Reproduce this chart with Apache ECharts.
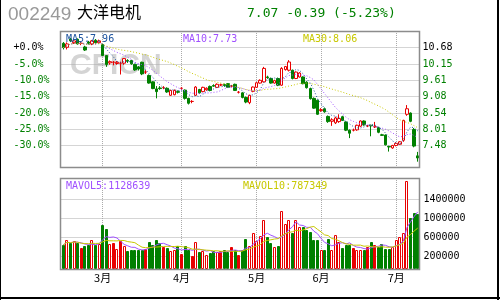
<!DOCTYPE html>
<html>
<head>
<meta charset="utf-8">
<script src="https://cdn.jsdelivr.net/npm/echarts@6/dist/echarts.min.js"></script>
<style>
  html, body { margin: 0; padding: 0; background: #fff; }
  #main { width: 500px; height: 300px; }
</style>
</head>
<body>
<div id="main"></div>
<script>
// 002249 大洋电机 日K线
const basePrice = 10.68;
const pctTicks = [0, -5, -10, -15, -20, -25, -30];
const volTicks = [200000, 600000, 1000000, 1400000];
const monthStart = [11, 33, 54, 72, 93];
const monthNames = ['3月', '4月', '5月', '6月', '7月'];
const legendText = ['MA5:7.96', 'MA10:7.73', 'MA30:8.06', 'MAVOL5:1128639', 'MAVOL10:787349'];

const opens = [
  10.82, 10.69, 10.96, 10.84, 10.95, 10.82, 10.70, 10.86, 10.80, 10.92,
  10.84, 10.78, 10.42, 10.18, 10.20, 10.16, 10.17, 10.17, 10.26, 10.26,
  10.13, 10.05, 10.20, 9.88, 9.77, 9.56, 9.33, 9.36, 9.37, 9.35,
  9.12, 9.14, 9.24, 9.35, 9.29, 9.02, 8.92, 9.12, 9.31, 9.24,
  9.30, 9.41, 9.44, 9.38, 9.46, 9.47, 9.50, 9.42, 9.48, 9.22,
  9.20, 9.05, 8.88, 9.25, 9.38, 9.52, 9.56, 9.72, 9.67, 9.52,
  9.67, 9.45, 9.96, 9.94, 9.94, 9.67, 9.72, 9.72, 9.55, 9.34,
  9.02, 8.96, 8.62, 8.68, 8.43, 8.27, 8.22, 8.26, 8.42, 8.25,
  7.98, 7.98, 7.99, 8.11, 8.28, 8.12, 8.14, 8.09, 8.07, 7.83,
  7.82, 7.45, 7.40, 7.48, 7.52, 7.65, 8.50, 8.54, 8.00, 7.14
];
const closes = [
  10.68, 10.80, 10.90, 10.90, 10.80, 10.82, 10.60, 10.82, 10.90, 10.84,
  10.90, 10.42, 10.13, 10.22, 10.20, 10.20, 10.17, 10.32, 10.24, 10.15,
  9.95, 9.98, 9.82, 9.88, 9.52, 9.34, 9.24, 9.34, 9.37, 9.23,
  9.28, 9.28, 9.22, 9.35, 9.02, 8.86, 8.92, 9.39, 9.20, 9.38,
  9.35, 9.28, 9.42, 9.48, 9.46, 9.44, 9.38, 9.42, 9.28, 9.22,
  9.05, 8.90, 9.12, 9.39, 9.53, 9.61, 10.00, 9.70, 9.52, 9.60,
  9.45, 10.00, 10.06, 10.21, 9.67, 9.88, 9.85, 9.50, 9.37, 9.01,
  8.70, 8.50, 8.65, 8.58, 8.26, 8.32, 8.38, 8.36, 8.30, 7.98,
  7.88, 7.98, 8.14, 8.28, 8.15, 8.12, 8.12, 8.09, 7.91, 7.81,
  7.50, 7.43, 7.48, 7.55, 7.60, 8.30, 8.68, 8.27, 7.46, 7.07
];
const lows = [
  10.62, 10.62, 10.86, 10.80, 10.78, 10.76, 10.57, 10.78, 10.76, 10.80,
  10.80, 10.40, 10.05, 10.12, 10.10, 10.12, 9.80, 10.12, 10.18, 10.12,
  9.92, 9.93, 9.78, 9.82, 9.50, 9.32, 9.02, 9.30, 9.32, 9.20,
  9.10, 9.12, 9.18, 9.30, 8.98, 8.82, 8.86, 9.10, 9.17, 9.22,
  9.27, 9.25, 9.40, 9.36, 9.42, 9.40, 9.36, 9.38, 9.26, 9.18,
  9.02, 8.86, 8.83, 9.22, 9.36, 9.50, 9.54, 9.66, 9.50, 9.50,
  9.42, 9.43, 9.93, 9.90, 9.64, 9.65, 9.70, 9.48, 9.34, 8.98,
  8.68, 8.48, 8.58, 8.55, 8.22, 8.12, 8.18, 8.22, 8.28, 7.95,
  7.72, 7.94, 7.96, 8.09, 8.13, 8.08, 7.78, 8.05, 7.88, 7.79,
  7.48, 7.28, 7.37, 7.45, 7.50, 7.60, 8.45, 8.24, 7.42, 6.95
];
const highs = [
  10.86, 10.85, 11.00, 10.94, 10.98, 10.86, 10.74, 10.90, 10.93, 10.96,
  10.94, 10.80, 10.43, 10.26, 10.24, 10.24, 10.22, 10.34, 10.30, 10.28,
  10.15, 10.08, 10.22, 9.94, 9.80, 9.58, 9.42, 9.42, 9.42, 9.38,
  9.30, 9.31, 9.28, 9.38, 9.31, 9.04, 8.96, 9.42, 9.33, 9.40,
  9.38, 9.44, 9.48, 9.51, 9.50, 9.50, 9.52, 9.46, 9.50, 9.26,
  9.22, 9.08, 9.14, 9.41, 9.55, 9.64, 10.05, 9.76, 9.70, 9.63,
  9.70, 10.04, 10.08, 10.27, 9.96, 9.90, 9.88, 9.74, 9.58, 9.37,
  9.05, 8.98, 8.70, 8.72, 8.46, 8.37, 8.42, 8.50, 8.45, 8.27,
  8.00, 8.03, 8.16, 8.30, 8.30, 8.15, 8.16, 8.25, 8.09, 7.86,
  7.84, 7.47, 7.50, 7.58, 7.62, 8.32, 8.80, 8.56, 8.05, 7.27
];
const volumes = [
  435000, 539000, 470000, 525000, 483000, 367000, 414000, 435000, 539000, 435000,
  456000, 850000, 760000, 456000, 483000, 346000, 518000, 414000, 311000, 332000,
  332000, 332000, 332000, 346000, 504000, 435000, 539000, 470000, 387000, 358000,
  300000, 320000, 400000, 250000, 414000, 330000, 200000, 504000, 280000, 300000,
  230000, 270000, 300000, 280000, 300000, 330000, 280000, 390000, 330000, 230000,
  330000, 560000, 420000, 690000, 525000, 620000, 950000, 610000, 480000, 380000,
  414000, 1140000, 870000, 950000, 690000, 950000, 800000, 820000, 750000, 700000,
  540000, 540000, 330000, 317000, 553000, 330000, 640000, 504000, 367000, 435000,
  435000, 367000, 330000, 330000, 317000, 390000, 504000, 435000, 380000, 455000,
  350000, 350000, 395000, 540000, 595000, 690000, 1780000, 990000, 1100000, 1080000
];

const days = closes.map((c, i) => String(i));
const priceTicks = pctTicks.map(p => basePrice * (1 + p / 100));
const RED = '#e80000', GREEN = '#008000', GRID = '#aaaaaa';
const MONO = '"DejaVu Sans Mono", monospace';

// moving average (shorter window at the start)
function ma(arr, n) {
  return arr.map((v, i) => {
    const s = arr.slice(Math.max(0, i - n + 1), i + 1);
    return s.reduce((a, b) => a + b, 0) / s.length;
  });
}

function renderVol(params, api) {
  const i = api.value(0);
  const top = api.coord([i, api.value(1)]);
  const bottom = params.coordSys.y + params.coordSys.height;
  const o = api.value(2), c = api.value(3);
  let fill = GREEN, stroke = GREEN;
  if (c > o) { fill = '#fff'; stroke = RED; }
  else if (c === o) { fill = RED; stroke = RED; }
  const L = Math.round(top[0] - 1.5);
  const y = Math.round(top[1]);
  return {
    type: 'rect',
    shape: { x: L + 0.5, y: y + 0.5, width: 2, height: bottom - y - 1 },
    style: { fill: fill, stroke: stroke, lineWidth: 1 }
  };
}

const gridLines = {
  silent: true, symbol: ['none', 'none'], z: 1, animation: false,
  label: { show: false },
  lineStyle: { color: GRID, type: [1, 1], width: 1 }
};

const chart = echarts.init(document.getElementById('main'));
chart.setOption({
  animation: false,
  grid: [
    { left: 61.5, top: 32, width: 358, height: 136 },
    { left: 61.5, top: 178, width: 358, height: 91 }
  ],
  xAxis: [
    { type: 'category', gridIndex: 0, data: days, boundaryGap: true,
      axisLine: { show: false }, axisTick: { show: false }, axisLabel: { show: false }, splitLine: { show: false } },
    { type: 'category', gridIndex: 1, data: days, boundaryGap: true,
      axisLine: { show: false }, axisTick: { show: false }, splitLine: { show: false },
      axisLabel: {
        interval: (idx) => monthStart.includes(idx),
        formatter: (v, idx) => monthNames[monthStart.indexOf(idx)] || '',
        color: '#000', fontSize: 11, margin: 3, fontFamily: '"Noto Sans CJK SC"'
      } }
  ],
  yAxis: [
    { type: 'value', gridIndex: 0, position: 'right', min: 6.743, max: 11.19,
      axisLine: { show: false }, axisTick: { show: false }, splitLine: { show: false },
      axisLabel: {
        customValues: priceTicks, margin: 3, fontSize: 10, fontFamily: MONO,
        formatter: (v) => v.toFixed(2),
        color: (v) => Math.abs(v - basePrice) < 1e-6 ? '#000' : GREEN
      } },
    { type: 'value', gridIndex: 0, position: 'left', min: 6.743, max: 11.19,
      axisLine: { show: false }, axisTick: { show: false }, splitLine: { show: false },
      axisLabel: {
        customValues: priceTicks, margin: 48, align: 'left', fontSize: 10, fontFamily: MONO,
        formatter: (v) => {
          const p = Math.round((v / basePrice - 1) * 1000) / 10;
          return (p >= 0 ? '+' : '') + p.toFixed(1) + '%';
        },
        color: (v) => Math.abs(v - basePrice) < 1e-6 ? '#000' : GREEN
      } },
    { type: 'value', gridIndex: 1, position: 'right', min: -74000, max: 1842000,
      axisLine: { show: false }, axisTick: { show: false }, splitLine: { show: false },
      axisLabel: { customValues: volTicks, margin: 4, fontSize: 10, fontFamily: MONO, color: '#000',
        formatter: (v) => String(Math.round(v)) } }
  ],
  graphic: [
    // watermark
    { type: 'text', left: 70, top: 51, z: 0,
      style: { text: 'CFICN', font: 'bold 30px "Liberation Sans"', fill: '#d4d4d4' } },
    // header
    { type: 'text', left: 8, top: 5, z: 100,
      style: { text: '002249', font: '19px "Liberation Sans"', fill: '#999' } },
    { type: 'text', left: 77, top: 4, z: 100,
      style: { text: '大洋电机', font: '16px "Noto Sans CJK SC"', fill: '#000' } },
    { type: 'text', left: 247, top: 7, z: 100,
      style: { text: '7.07 -0.39 (-5.23%)', font: '13px ' + MONO, fill: GREEN } },
    // legends
    { type: 'text', left: 66, top: 34, z: 100, style: { text: legendText[0], font: '10px ' + MONO, fill: '#1f55a0' } },
    { type: 'text', left: 183, top: 34, z: 100, style: { text: legendText[1], font: '10px ' + MONO, fill: '#a050ff' } },
    { type: 'text', left: 303, top: 34, z: 100, style: { text: legendText[2], font: '10px ' + MONO, fill: '#c8c800' } },
    { type: 'text', left: 66, top: 181, z: 100, style: { text: legendText[3], font: '10px ' + MONO, fill: '#a050ff' } },
    { type: 'text', left: 243, top: 181, z: 100, style: { text: legendText[4], font: '10px ' + MONO, fill: '#c8c800' } },
    // panel borders
    { type: 'rect', z: 50, shape: { x: 60.5, y: 31.5, width: 359, height: 136 },
      style: { fill: 'none', stroke: '#8c8c8c', lineWidth: 1.5 } },
    { type: 'rect', z: 50, shape: { x: 60.5, y: 178.5, width: 359, height: 91 },
      style: { fill: 'none', stroke: '#8c8c8c', lineWidth: 1.5 } },
    // outer frame
    { type: 'line', z: 100, shape: { x1: 0.5, y1: 0, x2: 0.5, y2: 300 }, style: { stroke: '#000', lineWidth: 1 } },
    { type: 'line', z: 100, shape: { x1: 498, y1: 0, x2: 498, y2: 300 }, style: { stroke: '#000', lineWidth: 2 } },
    { type: 'line', z: 100, shape: { x1: 0, y1: 298, x2: 500, y2: 298 }, style: { stroke: '#000', lineWidth: 2 } }
  ],
  series: [
    {
      name: 'K', type: 'candlestick', xAxisIndex: 0, yAxisIndex: 0, z: 2, barWidth: 3,
      data: closes.map((c, i) => [opens[i], c, lows[i], highs[i]]),
      itemStyle: {
        color: '#fff', color0: GREEN,
        borderColor: RED, borderColor0: GREEN, borderColorDoji: RED, borderWidth: 1
      },
      markLine: Object.assign({}, gridLines, {
        data: priceTicks.map(v => ({ yAxis: v })).concat(monthStart.map(i => ({ xAxis: i })))
      })
    },
    { name: 'MA5', type: 'line', xAxisIndex: 0, yAxisIndex: 0, z: 3, data: ma(closes, 5),
      showSymbol: false, silent: true, lineStyle: { color: '#1f55a0', width: 1, type: [1, 2] } },
    { name: 'MA10', type: 'line', xAxisIndex: 0, yAxisIndex: 0, z: 3, data: ma(closes, 10),
      showSymbol: false, silent: true, lineStyle: { color: '#a050ff', width: 1, type: [1, 2] } },
    { name: 'MA30', type: 'line', xAxisIndex: 0, yAxisIndex: 0, z: 3, data: ma(closes, 30),
      showSymbol: false, silent: true, lineStyle: { color: '#c8c800', width: 1, type: [1, 2] } },
    {
      name: 'VOL', type: 'custom', xAxisIndex: 1, yAxisIndex: 2, z: 2,
      data: volumes.map((v, i) => [i, v, opens[i], closes[i]]),
      encode: { x: 0, y: 1 },
      renderItem: renderVol
    },
    { name: 'MAVOL5', type: 'line', xAxisIndex: 1, yAxisIndex: 2, z: 3, data: ma(volumes, 5),
      showSymbol: false, silent: true, lineStyle: { color: '#a050ff', width: 1 },
      markLine: Object.assign({}, gridLines, {
        data: volTicks.map(v => ({ yAxis: v })).concat(monthStart.map(i => ({ xAxis: i })))
      }) },
    { name: 'MAVOL10', type: 'line', xAxisIndex: 1, yAxisIndex: 2, z: 3, data: ma(volumes, 10),
      showSymbol: false, silent: true, lineStyle: { color: '#c8c800', width: 1 } }
  ]
});
</script>
</body>
</html>
